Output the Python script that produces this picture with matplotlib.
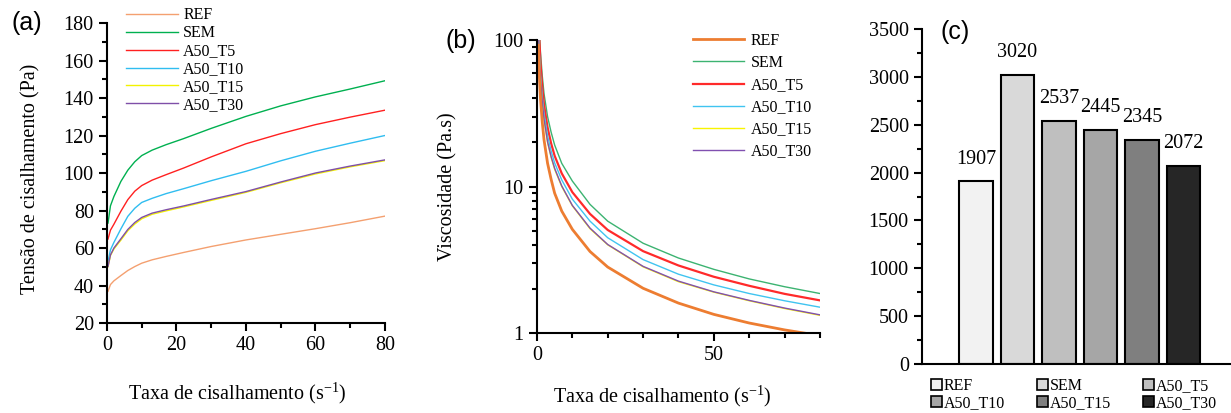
import numpy as np
import matplotlib
matplotlib.use("Agg")
import matplotlib.pyplot as plt
from matplotlib.patches import Patch
from matplotlib.ticker import MultipleLocator, LogLocator, NullFormatter

plt.rcParams['font.family'] = 'Liberation Serif'
plt.rcParams['mathtext.fontset'] = 'custom'
plt.rcParams['mathtext.rm'] = 'Liberation Serif'

names = ['REF', 'SEM', 'A50_T5', 'A50_T10', 'A50_T15', 'A50_T30']

# (a) tensao de cisalhamento (Pa) x taxa (1/s)
rate_a = [0.3, 1, 2, 4, 6, 8, 10, 13, 17, 22, 30, 40, 50, 60, 70, 80]
stress_ref = [36.9, 40.5, 42.5, 45.3, 48, 50.1, 51.9, 53.7, 55.5, 57.6, 60.8, 64.3, 67.3, 70.3, 73.5, 77]
stress_sem = [73.3, 82.5, 87.5, 95.5, 101.5, 106, 109.3, 112.2, 115.1, 118.3, 123.8, 130.2, 135.8, 140.6, 144.8, 149.2]
stress_t5 = [64.8, 69.5, 72.7, 79.6, 85.8, 90.3, 93.3, 96.2, 99.1, 102.6, 108.6, 115.6, 121, 125.8, 129.8, 133.5]
stress_t10 = [52.9, 59, 63, 70.2, 76.9, 81.2, 84.3, 86.5, 89, 91.6, 95.9, 100.9, 106.5, 111.6, 115.9, 120]
stress_t15 = [50, 56, 59.5, 64.2, 69.2, 72.8, 75.6, 78, 79.8, 81.9, 85.4, 89.7, 94.8, 99.5, 103.3, 106.6]
stress_t30 = [50.2, 56.3, 60, 64.9, 69.9, 73.6, 76.3, 78.6, 80.4, 82.4, 85.9, 90.1, 95.2, 100, 103.7, 107]

# (b) viscosidade (Pa.s)
rate_b = [0.4, 0.5, 0.7, 1, 1.5, 2, 3, 4, 5, 7, 10, 15, 20, 30, 40, 50, 60, 70, 80]
visc_ref = [92, 75, 55, 39.5, 27.5, 20.8, 14.4, 11.2, 9.0, 6.8, 5.1, 3.6, 2.82, 2.02, 1.6, 1.34, 1.17, 1.05, 0.96]
visc_sem = [185, 150, 110, 82, 57, 43, 30, 23.5, 19.2, 14.4, 10.9, 7.55, 5.8, 4.1, 3.25, 2.72, 2.34, 2.07, 1.86]
visc_t5 = [165, 132, 97, 69, 48, 36, 25.3, 19.7, 16.2, 12.3, 9.15, 6.5, 5.05, 3.62, 2.89, 2.42, 2.1, 1.85, 1.67]
visc_t10 = [132, 108, 80, 58, 41, 31.5, 22.2, 17.5, 14.5, 11.1, 8.2, 5.8, 4.47, 3.17, 2.52, 2.13, 1.86, 1.66, 1.5]
visc_t15 = [125, 101, 74, 54, 37.5, 28.5, 20, 15.8, 13.1, 10, 7.38, 5.15, 4.0, 2.83, 2.24, 1.9, 1.66, 1.47, 1.32]
visc_t30 = [126, 102, 75, 54.5, 38, 28.8, 20.2, 16, 13.3, 10.1, 7.43, 5.2, 4.02, 2.85, 2.26, 1.91, 1.67, 1.48, 1.33]

# (c)
yield_vals = [1907, 3020, 2537, 2445, 2345, 2072]

colors_a = ['#F4A070', '#00B050', '#FF2020', '#30BDF0', '#F2F200', '#7F4FA8']
colors_b = ['#ED7D31', '#3CB371', '#FF2A2A', '#40C4F0', '#F8F400', '#8050B0']
lw_b = [2.0, 1.0, 1.6, 1.0, 1.0, 1.0]
grays = ['#F2F2F2', '#D9D9D9', '#BFBFBF', '#A6A6A6', '#7F7F7F', '#262626']

fig = plt.figure(figsize=(12.31, 4.13), dpi=100)

def style_ax(ax):
    for s in ['top', 'right']:
        ax.spines[s].set_visible(False)
    for s in ['left', 'bottom']:
        ax.spines[s].set_linewidth(1.5)
    ax.tick_params(which='major', direction='out', length=6, width=1.5, labelsize=14.5)
    ax.tick_params(which='minor', direction='out', length=3.5, width=1.5)

# ---- (a)
ax1 = fig.add_axes([0.0869, 0.2179, 0.2258, 0.7264])
stress_a = [stress_ref, stress_sem, stress_t5, stress_t10, stress_t15, stress_t30]
for s, c, n in zip(stress_a, colors_a, names):
    ax1.plot(rate_a, s, color=c, lw=1.0, label=n)
ax1.set_xlim(0, 80)
ax1.set_ylim(20, 180)
ax1.xaxis.set_major_locator(MultipleLocator(20))
ax1.xaxis.set_minor_locator(MultipleLocator(10))
ax1.yaxis.set_major_locator(MultipleLocator(20))
ax1.yaxis.set_minor_locator(MultipleLocator(10))
style_ax(ax1)
ax1.set_ylabel('Tensão de cisalhamento (Pa)', fontsize=14.5)
ax1.yaxis.set_label_coords(-0.24, 0.48)
ax1.set_xlabel(r'Taxa de cisalhamento (s$^{\mathregular{-1}}$)', fontsize=14.5)
ax1.xaxis.set_label_coords(0.47, -0.19)
fig.legend(*ax1.get_legend_handles_labels(), loc='upper left',
           bbox_to_anchor=(0.091, 1.017), frameon=False, fontsize=11.5,
           handlelength=3.2, handletextpad=0.35, labelspacing=0.12)
fig.text(0.022, 0.945, '(a)', fontsize=18, family='Liberation Sans', ha='center', va='center')

# ---- (b)
ax2 = fig.add_axes([0.4362, 0.1937, 0.2299, 0.7094])
visc = [visc_ref, visc_sem, visc_t5, visc_t10, visc_t15, visc_t30]
lines = []
for i in [1, 2, 3, 4, 5, 0]:
    ln, = ax2.plot(rate_b, visc[i], color=colors_b[i], lw=lw_b[i], label=names[i])
    lines.append((i, ln))
ax2.set_yscale('log')
ax2.set_xlim(0, 80)
ax2.set_ylim(1, 100)
ax2.xaxis.set_major_locator(MultipleLocator(50))
ax2.xaxis.set_minor_locator(MultipleLocator(10))
ax2.yaxis.set_major_locator(LogLocator(base=10))
ax2.yaxis.set_minor_locator(LogLocator(base=10, subs=np.arange(2, 10)))
ax2.yaxis.set_minor_formatter(NullFormatter())
ax2.yaxis.set_major_formatter(plt.FuncFormatter(lambda v, p: '%g' % v))
style_ax(ax2)
ax2.set_ylabel('Viscosidade (Pa.s)', fontsize=14.5)
ax2.yaxis.set_label_coords(-0.28, 0.5)
ax2.set_xlabel(r'Taxa de cisalhamento (s$^{\mathregular{-1}}$)', fontsize=14.5)
ax2.xaxis.set_label_coords(0.443, -0.171)
lines.sort()
fig.legend([l for _, l in lines], names, loc='upper left',
           bbox_to_anchor=(0.551, 0.955), frameon=False, fontsize=11.5,
           handlelength=3.2, handletextpad=0.45, labelspacing=0.38)
fig.text(0.374, 0.9, '(b)', fontsize=18, family='Liberation Sans', ha='center', va='center')

# ---- (c)
ax3 = fig.add_axes([0.749, 0.1186, 0.251, 0.8111])
xpos = np.arange(len(names))
ax3.bar(xpos, yield_vals, width=0.8, color=grays, edgecolor='black', linewidth=1.5)
for x, v in zip(xpos, yield_vals):
    ax3.annotate(str(v), (x, v), xytext=(0, 16), textcoords='offset points',
                 ha='center', va='center', fontsize=14.5)
ax3.set_xlim(-1.3, 6.145)
ax3.set_ylim(0, 3500)
ax3.yaxis.set_major_locator(MultipleLocator(500))
ax3.yaxis.set_minor_locator(MultipleLocator(250))
style_ax(ax3)
ax3.set_xticks([])
handles = [Patch(facecolor=g, edgecolor='black', linewidth=1.2) for g in grays]
ord_c = [0, 3, 1, 4, 2, 5]
fig.legend([handles[i] for i in ord_c], [names[i] for i in ord_c], ncol=3,
           loc='upper left', bbox_to_anchor=(0.747, 0.112), frameon=False,
           fontsize=11.5, handlelength=0.7, handleheight=0.7, handletextpad=0.1,
           labelspacing=0.05, columnspacing=2.0, borderpad=0.2)
fig.text(0.776, 0.923, '(c)', fontsize=18, family='Liberation Sans', ha='center', va='center')

fig.savefig('out.png', dpi=100)
